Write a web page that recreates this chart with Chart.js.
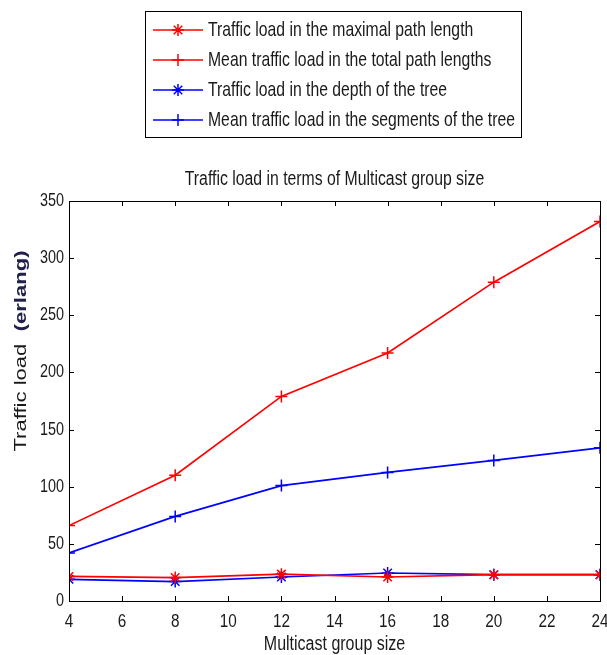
<!DOCTYPE html>
<html>
<head>
<meta charset="utf-8">
<script src="https://cdn.jsdelivr.net/npm/chart.js@4/dist/chart.umd.min.js"></script>
<style>
  html, body { margin: 0; padding: 0; background: #ffffff; }
  #wrap { width: 607px; height: 655px; position: relative; }
</style>
</head>
<body>
<div id="wrap"><canvas id="c" width="607" height="655"></canvas></div>
<script>
// Multicast group sizes on the x axis
const groupSizes = [4, 8, 12, 16, 20, 24];

// Traffic load series (erlang)
const maxPathLoad   = [21.5, 20.5, 23.5, 21, 23, 23];
const meanTotalLoad = [66, 110, 179, 217, 279, 332];
const treeDepthLoad = [19, 17, 21, 24.5, 23, 23];
const meanSegLoad   = [42, 74, 101, 112.5, 123, 134];

const seriesLabels = [
  'Traffic load in the maximal path length',
  'Mean traffic load in the total path lengths',
  'Traffic load in the depth of the tree',
  'Mean traffic load in the segments of the tree'
];

const xTicks = { min: 4, max: 24, step: 2 };
const yTicks = { min: 0, max: 350, step: 50 };

const chartTitle = 'Traffic load in terms of Multicast group size';
const xTitle = 'Multicast group size';
const yTitleMain = 'Traffic load';
const yTitleUnit = '(erlang)';

const FONT = "'Liberation Sans', Arial, sans-serif";
const TEXT = '#1a1a1a';

function pts(values) {
  return groupSizes.map((x, i) => ({ x: x, y: values[i] }));
}

function series(label, values, color, style) {
  return {
    label: label,
    data: pts(values),
    borderColor: color,
    backgroundColor: color,
    borderWidth: 1.7,
    pointStyle: style,
    pointRadius: 6,
    pointBorderWidth: 1.5,
    pointBorderColor: color,
    pointHoverRadius: 6,
    tension: 0,
    fill: false
  };
}

// Condensed-looking text: draw with a horizontal squeeze
function narrowText(ctx, str, x, y, size, sx, align, weight) {
  ctx.save();
  ctx.translate(x, y);
  ctx.scale(sx, 1);
  ctx.font = (weight || 'normal') + ' ' + size + 'px ' + FONT;
  ctx.textAlign = align;
  ctx.textBaseline = 'middle';
  ctx.fillText(str, 0, 0);
  ctx.restore();
}

// Axis box with inward ticks on all four sides, plus tick labels
const boxPlugin = {
  id: 'boxAxes',
  afterDatasetsDraw(chart) {
    const { ctx, chartArea: a, scales } = chart;
    ctx.save();
    ctx.strokeStyle = '#000';
    ctx.lineWidth = 1;
    ctx.strokeRect(Math.round(a.left) + 0.5, Math.round(a.top) + 0.5,
                   Math.round(a.right - a.left), Math.round(a.bottom - a.top));
    const len = 5;
    ctx.beginPath();
    scales.x.ticks.forEach(t => {
      const px = Math.round(scales.x.getPixelForValue(t.value)) + 0.5;
      ctx.moveTo(px, a.bottom); ctx.lineTo(px, a.bottom - len);
      ctx.moveTo(px, a.top); ctx.lineTo(px, a.top + len);
    });
    scales.y.ticks.forEach(t => {
      const py = Math.round(scales.y.getPixelForValue(t.value)) + 0.5;
      ctx.moveTo(a.left, py); ctx.lineTo(a.left + len, py);
      ctx.moveTo(a.right, py); ctx.lineTo(a.right - len, py);
    });
    ctx.stroke();

    ctx.fillStyle = TEXT;
    scales.x.ticks.forEach(t => {
      narrowText(ctx, t.label, scales.x.getPixelForValue(t.value), a.bottom + 21, 18, 0.85, 'center');
    });
    scales.y.ticks.forEach(t => {
      narrowText(ctx, t.label, a.left - 5, scales.y.getPixelForValue(t.value), 18, 0.8, 'right');
    });
    ctx.restore();
  }
};

// Titles and the boxed legend above the plot
const decorPlugin = {
  id: 'decor',
  afterDraw(chart) {
    const { ctx, chartArea: a } = chart;
    const cx = (a.left + a.right) / 2;
    ctx.save();
    ctx.fillStyle = TEXT;

    narrowText(ctx, chartTitle, cx, 179, 20, 0.79, 'center');
    narrowText(ctx, xTitle, cx, 644, 20, 0.8, 'center');

    // y axis title, rotated
    ctx.save();
    ctx.translate(22, 351);
    ctx.rotate(-Math.PI / 2);
    ctx.scale(1.38, 1);
    ctx.textBaseline = 'middle';
    ctx.font = 'normal 16px ' + FONT;
    const w1 = ctx.measureText(yTitleMain + '  ').width;
    ctx.font = 'bold 16px ' + FONT;
    const w2 = ctx.measureText(yTitleUnit).width;
    const start = -(w1 + w2) / 2;
    ctx.textAlign = 'left';
    ctx.font = 'normal 16px ' + FONT;
    ctx.fillText(yTitleMain, start, 0);
    ctx.font = 'bold 16px ' + FONT;
    ctx.fillStyle = '#20204a';
    ctx.fillText(yTitleUnit, start + w1, 0);
    ctx.restore();

    // legend
    const bx = 145, by = 11, bw = 376, bh = 126;
    ctx.fillStyle = '#fff';
    ctx.fillRect(bx, by, bw, bh);
    ctx.strokeStyle = '#000';
    ctx.lineWidth = 1;
    ctx.strokeRect(bx + 0.5, by + 0.5, bw, bh);
    chart.data.datasets.forEach((ds, i) => {
      const y = 30 + i * 30;
      ctx.strokeStyle = ds.borderColor;
      ctx.lineWidth = 1.7;
      ctx.beginPath();
      ctx.moveTo(153, y); ctx.lineTo(203, y);
      ctx.stroke();
      ctx.lineWidth = 1.5;
      Chart.helpers.drawPoint(ctx, {
        pointStyle: ds.pointStyle, radius: 6, rotation: 0, borderWidth: 1.5
      }, 178, y);
      ctx.fillStyle = TEXT;
      narrowText(ctx, ds.label, 208, y, 21, 0.75, 'left');
    });
    ctx.restore();
  }
};

new Chart(document.getElementById('c'), {
  type: 'line',
  data: {
    datasets: [
      series(seriesLabels[0], maxPathLoad, '#ff0000', 'star'),
      series(seriesLabels[1], meanTotalLoad, '#ff0000', 'cross'),
      series(seriesLabels[2], treeDepthLoad, '#0000ff', 'star'),
      series(seriesLabels[3], meanSegLoad, '#0000ff', 'cross')
    ]
  },
  options: {
    responsive: false,
    animation: false,
    events: [],
    layout: { padding: { top: 201, right: 7, left: 0, bottom: 0 }, autoPadding: false },
    plugins: { legend: { display: false }, title: { display: false }, tooltip: { enabled: false } },
    scales: {
      x: {
        type: 'linear',
        min: xTicks.min, max: xTicks.max,
        ticks: { stepSize: xTicks.step, display: false },
        grid: { display: false, drawTicks: false },
        border: { display: false },
        afterFit(s) { s.height = 54; }
      },
      y: {
        type: 'linear',
        min: yTicks.min, max: yTicks.max,
        ticks: { stepSize: yTicks.step, display: false },
        grid: { display: false, drawTicks: false },
        border: { display: false },
        afterFit(s) { s.width = 69; }
      }
    }
  },
  plugins: [boxPlugin, decorPlugin]
});
</script>
</body>
</html>
